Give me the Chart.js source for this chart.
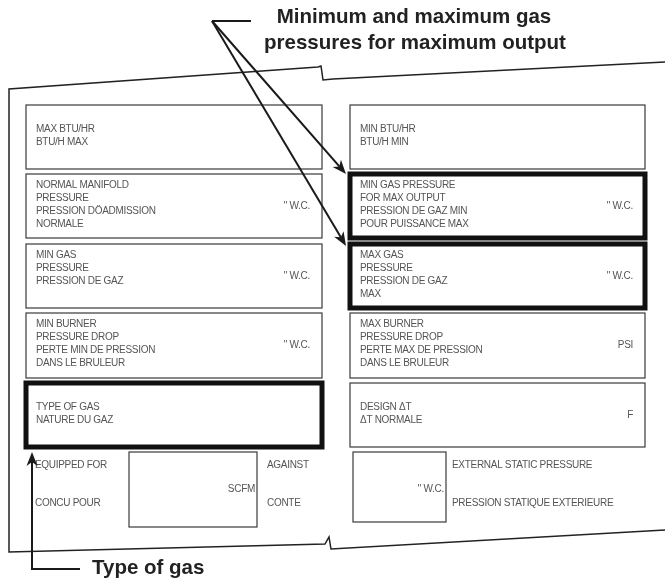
<!DOCTYPE html>
<html>
<head>
<meta charset="utf-8">
<script src="https://cdn.jsdelivr.net/npm/chart.js@4.4.1/dist/chart.umd.min.js"></script>
<style>
  body { margin: 0; background: #fff; }
  canvas { display: block; }
</style>
</head>
<body>
<canvas id="plate" width="665" height="582"></canvas>
<script>
// field labels on the rating plate, one entry per box, top to bottom
const leftFields = [
  ['MAX BTU/HR', 'BTU/H MAX'],
  ['NORMAL MANIFOLD', 'PRESSURE', 'PRESSION DÖADMISSION', 'NORMALE'],
  ['MIN GAS', 'PRESSURE', 'PRESSION DE GAZ'],
  ['MIN BURNER', 'PRESSURE DROP', 'PERTE MIN DE PRESSION', 'DANS LE BRULEUR'],
  ['TYPE OF GAS', 'NATURE DU GAZ']
]
const leftUnits = ['', '" W.C.', '" W.C.', '" W.C.', '']
const leftHighlight = [false, false, false, false, true]

const rightFields = [
  ['MIN BTU/HR', 'BTU/H MIN'],
  ['MIN GAS PRESSURE', 'FOR MAX OUTPUT', 'PRESSION DE GAZ MIN', 'POUR PUISSANCE MAX'],
  ['MAX GAS', 'PRESSURE', 'PRESSION DE GAZ', 'MAX'],
  ['MAX BURNER', 'PRESSURE DROP', 'PERTE MAX DE PRESSION', 'DANS LE BRULEUR'],
  ['DESIGN ΔT', 'ΔT NORMALE']
]
const rightUnits = ['', '" W.C.', '" W.C.', 'PSI', 'F']
const rightHighlight = [false, true, true, false, false]

// bottom strip
const equippedLabels = ['EQUIPPED FOR', 'CONCU POUR']
const againstLabels = ['AGAINST', 'CONTE']
const flowUnit = 'SCFM'
const staticLabels = ['EXTERNAL STATIC PRESSURE', 'PRESSION STATIQUE EXTERIEURE']
const staticUnit = '" W.C.'

// callouts
const pressureCallout = ['Minimum and maximum gas', 'pressures for maximum output']
const gasCallout = 'Type of gas'

// layout (plate units, same as the hidden axes)
const columns = [[26, 322], [350, 645]]
const rows = [[105, 169], [174, 238], [244, 308], [313, 378], [383, 447]]
const flowBox = [129, 452, 257, 527]
const staticBox = [353, 452, 446, 522]

const labelFont = '10px "Liberation Sans", Arial, sans-serif'
const calloutFont = 'bold 20.5px "Liberation Sans", Arial, sans-serif'
const labelColor = '#555'
const inkColor = '#1a1a1a'

const platePlugin = {
  id: 'plate',
  afterDraw(chart) {
    const ctx = chart.ctx
    const X = v => chart.scales.x.getPixelForValue(v)
    const Y = v => chart.scales.y.getPixelForValue(v)

    const path = (pts, width, color) => {
      ctx.beginPath()
      pts.forEach((p, i) => i ? ctx.lineTo(X(p[0]), Y(p[1])) : ctx.moveTo(X(p[0]), Y(p[1])))
      ctx.lineWidth = width
      ctx.strokeStyle = color
      ctx.lineJoin = 'miter'
      ctx.stroke()
    }

    const rect = (x1, y1, x2, y2, width, color) => {
      ctx.lineWidth = width
      ctx.strokeStyle = color
      ctx.strokeRect(X(x1), Y(y1), X(x2) - X(x1), Y(y2) - Y(y1))
    }

    const text = (str, x, y, align, font, color, spacing) => {
      ctx.font = font
      ctx.fillStyle = color
      ctx.textAlign = align
      ctx.textBaseline = 'middle'
      ctx.letterSpacing = spacing || '0px'
      ctx.fillText(str, X(x), Y(y))
      ctx.letterSpacing = '0px'
    }

    const arrow = (from, tip) => {
      const x0 = X(from[0]), y0 = Y(from[1]), x1 = X(tip[0]), y1 = Y(tip[1])
      const a = Math.atan2(y1 - y0, x1 - x0)
      const c = Math.cos(a), s = Math.sin(a)
      const len = 14, half = 5.5
      ctx.beginPath()
      ctx.moveTo(x0, y0)
      ctx.lineTo(x1 - c * len * 0.7, y1 - s * len * 0.7)
      ctx.lineWidth = 2
      ctx.strokeStyle = inkColor
      ctx.stroke()
      ctx.beginPath()
      ctx.moveTo(x1, y1)
      ctx.lineTo(x1 - c * len + s * half, y1 - s * len - c * half)
      ctx.lineTo(x1 - c * len * 0.72, y1 - s * len * 0.72)
      ctx.lineTo(x1 - c * len - s * half, y1 - s * len + c * half)
      ctx.closePath()
      ctx.fillStyle = inkColor
      ctx.fill()
    }

    ctx.save()

    // plate outline with break marks
    path([[665, 62], [333, 79], [323, 80], [321, 66], [318, 67], [9, 89], [9, 552], [325, 544], [329, 537], [331, 549], [665, 530]], 1.5, '#222')

    // field boxes
    const drawColumn = (fields, units, highlight, col) => {
      const [x1, x2] = columns[col]
      fields.forEach((lines, i) => {
        const [y1, y2] = rows[i]
        if (highlight[i]) rect(x1, y1, x2, y2, 5, '#111')
        else rect(x1, y1, x2, y2, 1.2, '#3a3a3a')
        const start = lines.length === 2 ? 1 : 0
        lines.forEach((s, j) => text(s, x1 + 10, y1 + 11.5 + (start + j) * 13, 'left', labelFont, labelColor, '-0.3px'))
        if (units[i]) text(units[i], x2 - 12, (y1 + y2) / 2, 'right', labelFont, labelColor, '-0.3px')
      })
    }
    drawColumn(leftFields, leftUnits, leftHighlight, 0)
    drawColumn(rightFields, rightUnits, rightHighlight, 1)

    // bottom strip
    rect(flowBox[0], flowBox[1], flowBox[2], flowBox[3], 1.2, '#3a3a3a')
    rect(staticBox[0], staticBox[1], staticBox[2], staticBox[3], 1.2, '#3a3a3a')
    equippedLabels.forEach((s, j) => text(s, 35, 465 + j * 38, 'left', labelFont, labelColor, '-0.3px'))
    againstLabels.forEach((s, j) => text(s, 267, 465 + j * 38, 'left', labelFont, labelColor, '-0.3px'))
    text(flowUnit, flowBox[2] - 2, 489, 'right', labelFont, labelColor, '-0.3px')
    staticLabels.forEach((s, j) => text(s, 452, 465 + j * 38, 'left', labelFont, labelColor, '-0.3px'))
    text(staticUnit, staticBox[2] - 2, 489, 'right', labelFont, labelColor, '-0.3px')

    // callout: min / max gas pressures
    text(pressureCallout[0], 414, 17, 'center', calloutFont, '#222')
    text(pressureCallout[1], 415, 43, 'center', calloutFont, '#222')
    path([[251, 21], [212, 21]], 2, inkColor)
    arrow([212, 21], [346, 174])
    arrow([212, 21], [346, 246])

    // callout: type of gas
    path([[80, 569], [32, 569], [32, 462]], 2, inkColor)
    arrow([32, 470], [32, 452])
    text(gasCallout, 92, 568, 'left', calloutFont, '#222')

    ctx.restore()
  }
}

new Chart(document.getElementById('plate'), {
  type: 'scatter',
  data: { datasets: [] },
  options: {
    responsive: false,
    animation: false,
    devicePixelRatio: 1,
    layout: { padding: 0 },
    plugins: { legend: { display: false }, tooltip: { enabled: false } },
    scales: {
      x: { type: 'linear', min: 0, max: 665, display: false },
      y: { type: 'linear', min: 0, max: 582, reverse: true, display: false }
    }
  },
  plugins: [platePlugin]
})
</script>
</body>
</html>
